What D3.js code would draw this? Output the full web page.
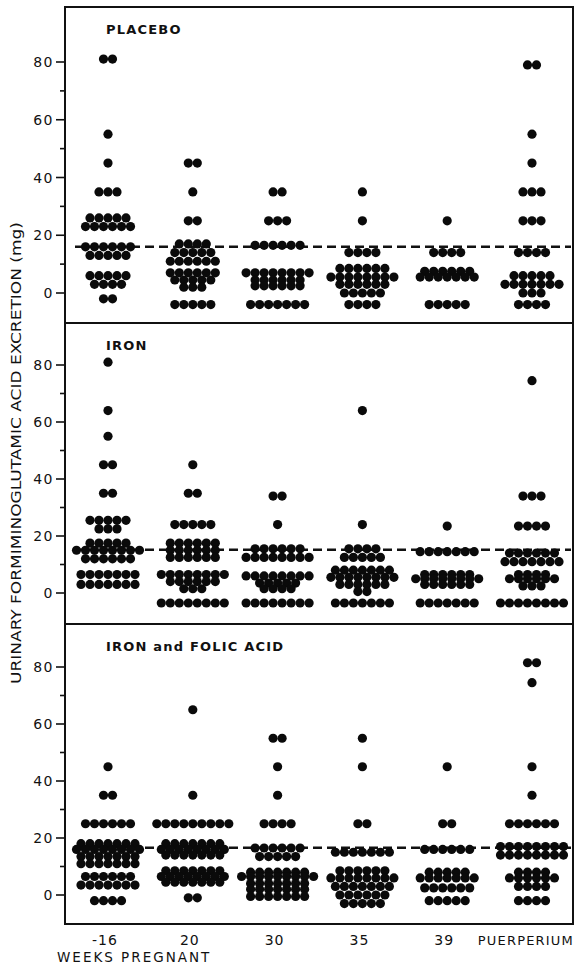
<!DOCTYPE html>
<html>
<head>
<meta charset="utf-8">
<script src="https://cdn.jsdelivr.net/npm/d3@7"></script>
<style>
  body { margin: 0; background: #fff; }
  svg { display: block; }
  text { font-family: "DejaVu Sans", sans-serif; fill: #111; }
</style>
</head>
<body>
<svg id="canvas" width="575" height="966"></svg>
<script>
// groups along the bottom
let weeks = ['-16', '20', '30', '35', '39', 'PUERPERIUM']

// each group is a list of rows: [excretion mg, number of women at that level]
let placebo = [
    [[81, 2], [55, 1], [45, 1], [35, 3], [26, 5], [23, 6], [16, 6], [13, 5], [6, 5], [3, 4], [-2, 2]],
    [[45, 2], [35, 1], [25, 2], [17, 4], [14, 5], [11, 6], [7, 6], [4.5, 5], [2, 3], [-4, 5]],
    [[35, 2], [25, 3], [16.5, 6], [7, 8], [4.5, 6], [2.5, 6], [-4, 7]],
    [[35, 1], [25, 1], [14, 4], [8.5, 6], [5.5, 8], [3, 6], [0, 5], [-4, 4]],
    [[25, 1], [14, 4], [7.5, 6], [5.5, 7], [-4, 5]],
    [[79, 2], [55, 1], [45, 1], [35, 3], [25, 3], [14, 4], [6, 5], [3, 7], [0, 3], [-4, 4]]
]

let iron = [
    [[81, 1], [64, 1], [55, 1], [45, 2], [35, 2], [25.5, 5], [22.5, 3], [17.5, 5], [15, 8], [12, 6], [6.5, 7], [3, 7]],
    [[45, 1], [35, 2], [24, 5], [17.5, 6], [15, 6], [12.5, 6], [6.5, 8], [4, 6], [1.5, 3], [-3.5, 8]],
    [[34, 2], [24, 1], [15.5, 6], [12.5, 8], [6, 8], [3.5, 5], [1.5, 4], [-3.5, 8]],
    [[64, 1], [24, 1], [15.5, 4], [12.5, 5], [8, 7], [5.5, 8], [3, 6], [0.5, 2], [-3.5, 7]],
    [[23.5, 1], [14.5, 7], [6.5, 6], [5, 8], [3, 6], [-3.5, 7]],
    [[74.5, 1], [34, 3], [23.5, 4], [14, 6], [11, 7], [6.5, 4], [5, 6], [2.5, 3], [-3.5, 8]]
]

let ironFolic = [
    [[45, 1], [35, 2], [25, 6], [18, 7], [16, 8], [13.5, 7], [11, 7], [6.5, 6], [3.5, 7], [-2, 4]],
    [[65, 1], [35, 1], [25, 9], [18, 7], [16, 8], [14, 7], [8.5, 7], [6.5, 8], [4.5, 7], [-1, 2]],
    [[55, 2], [45, 1], [35, 1], [25, 4], [16.5, 6], [13.5, 5], [8, 7], [6.5, 9], [4, 7], [2, 7], [-0.5, 7]],
    [[55, 1], [45, 1], [25, 2], [15, 7], [8.5, 6], [6, 8], [3, 7], [0, 6], [-3, 5]],
    [[45, 1], [25, 2], [16, 6], [8, 5], [6, 7], [2.5, 6], [-2, 5]],
    [[81.5, 2], [74.5, 1], [45, 1], [35, 1], [25, 6], [17, 8], [14, 8], [8, 4], [6, 6], [3, 4], [-2, 4]]
]

let panelNames = ['PLACEBO', 'IRON', 'IRON and FOLIC ACID']
let panelData = [placebo, iron, ironFolic]
let upperNormal = [16, 15.2, 16.6] // dashed line in each panel

let majorTicks = [0, 20, 40, 60, 80]
let minorTicks = [10, 30, 50, 70]

// layout
let left = 65
let right = 573
let panels = [
    { top: 7, bottom: 323, y0: 293, y80: 62 },
    { top: 323, bottom: 624, y0: 593, y80: 365 },
    { top: 624, bottom: 924, y0: 895, y80: 667 }
]
let dotR = 4.6
let dotStep = 9

let canvas = d3.select('#canvas')

let xScale = d3.scalePoint()
                .domain(weeks)
                .range([108, 532])

panels.forEach((p, i) => {
    let yScale = d3.scaleLinear()
                    .domain([0, 80])
                    .range([p.y0, p.y80])

    let g = canvas.append('g')

    // ticks
    g.selectAll('.major')
        .data(majorTicks)
        .enter()
        .append('line')
        .attr('x1', left - 9)
        .attr('x2', left)
        .attr('y1', (d) => yScale(d))
        .attr('y2', (d) => yScale(d))
        .attr('stroke', '#111')
        .attr('stroke-width', 1.6)

    g.selectAll('.minor')
        .data(minorTicks)
        .enter()
        .append('line')
        .attr('x1', left - 5)
        .attr('x2', left)
        .attr('y1', (d) => yScale(d))
        .attr('y2', (d) => yScale(d))
        .attr('stroke', '#111')
        .attr('stroke-width', 1.6)

    g.selectAll('.ticklabel')
        .data(majorTicks)
        .enter()
        .append('text')
        .text((d) => d)
        .attr('x', left - 11)
        .attr('y', (d) => yScale(d))
        .attr('dy', '0.36em')
        .attr('text-anchor', 'end')
        .attr('font-size', 14)
        .attr('letter-spacing', 1.5)

    // dashed reference line
    g.append('line')
        .attr('x1', 75)
        .attr('x2', 571)
        .attr('y1', yScale(upperNormal[i]))
        .attr('y2', yScale(upperNormal[i]))
        .attr('stroke', '#111')
        .attr('stroke-width', 2.4)
        .attr('stroke-dasharray', '9,5')

    // turn rows into single dots
    let dots = []
    panelData[i].forEach((rows, k) => {
        rows.forEach(([value, count]) => {
            for (let j = 0; j < count; j++) {
                dots.push({ week: weeks[k], value: value, offset: j - (count - 1) / 2 })
            }
        })
    })

    g.selectAll('circle')
        .data(dots)
        .enter()
        .append('circle')
        .attr('cx', (d) => xScale(d.week) + d.offset * dotStep)
        .attr('cy', (d) => yScale(d.value))
        .attr('r', dotR)
        .attr('fill', '#0a0a0a')

    // frame
    g.append('rect')
        .attr('x', left)
        .attr('y', p.top)
        .attr('width', right - left)
        .attr('height', p.bottom - p.top)
        .attr('fill', 'none')
        .attr('stroke', '#111')
        .attr('stroke-width', 2)

    g.append('text')
        .text(panelNames[i])
        .attr('x', 106)
        .attr('y', p.top + 27)
        .attr('font-size', 13)
        .attr('font-weight', 'bold')
        .attr('letter-spacing', 1.2)
})

// bottom labels
canvas.selectAll('.week')
    .data(weeks.slice(0, 5))
    .enter()
    .append('text')
    .text((d) => d)
    .attr('x', (d) => xScale(d) - 3)
    .attr('y', 945)
    .attr('text-anchor', 'middle')
    .attr('font-size', 14)
    .attr('letter-spacing', 1)

canvas.append('text')
    .text(weeks[5])
    .attr('x', 574)
    .attr('y', 945)
    .attr('text-anchor', 'end')
    .attr('font-size', 13)
    .attr('letter-spacing', 1.2)

canvas.append('text')
    .text('WEEKS PREGNANT')
    .attr('x', 57)
    .attr('y', 962)
    .attr('font-size', 13.5)
    .attr('letter-spacing', 2)

// y axis title
canvas.append('text')
    .text('URINARY FORMIMINOGLUTAMIC ACID EXCRETION (mg)')
    .attr('transform', 'translate(21, 453) rotate(-90)')
    .attr('text-anchor', 'middle')
    .attr('font-size', 14)
    .attr('textLength', 462)
    .attr('lengthAdjust', 'spacingAndGlyphs')
    .style('font-family', '"DejaVu Sans Condensed", "Liberation Sans Narrow", sans-serif')
</script>
</body>
</html>
